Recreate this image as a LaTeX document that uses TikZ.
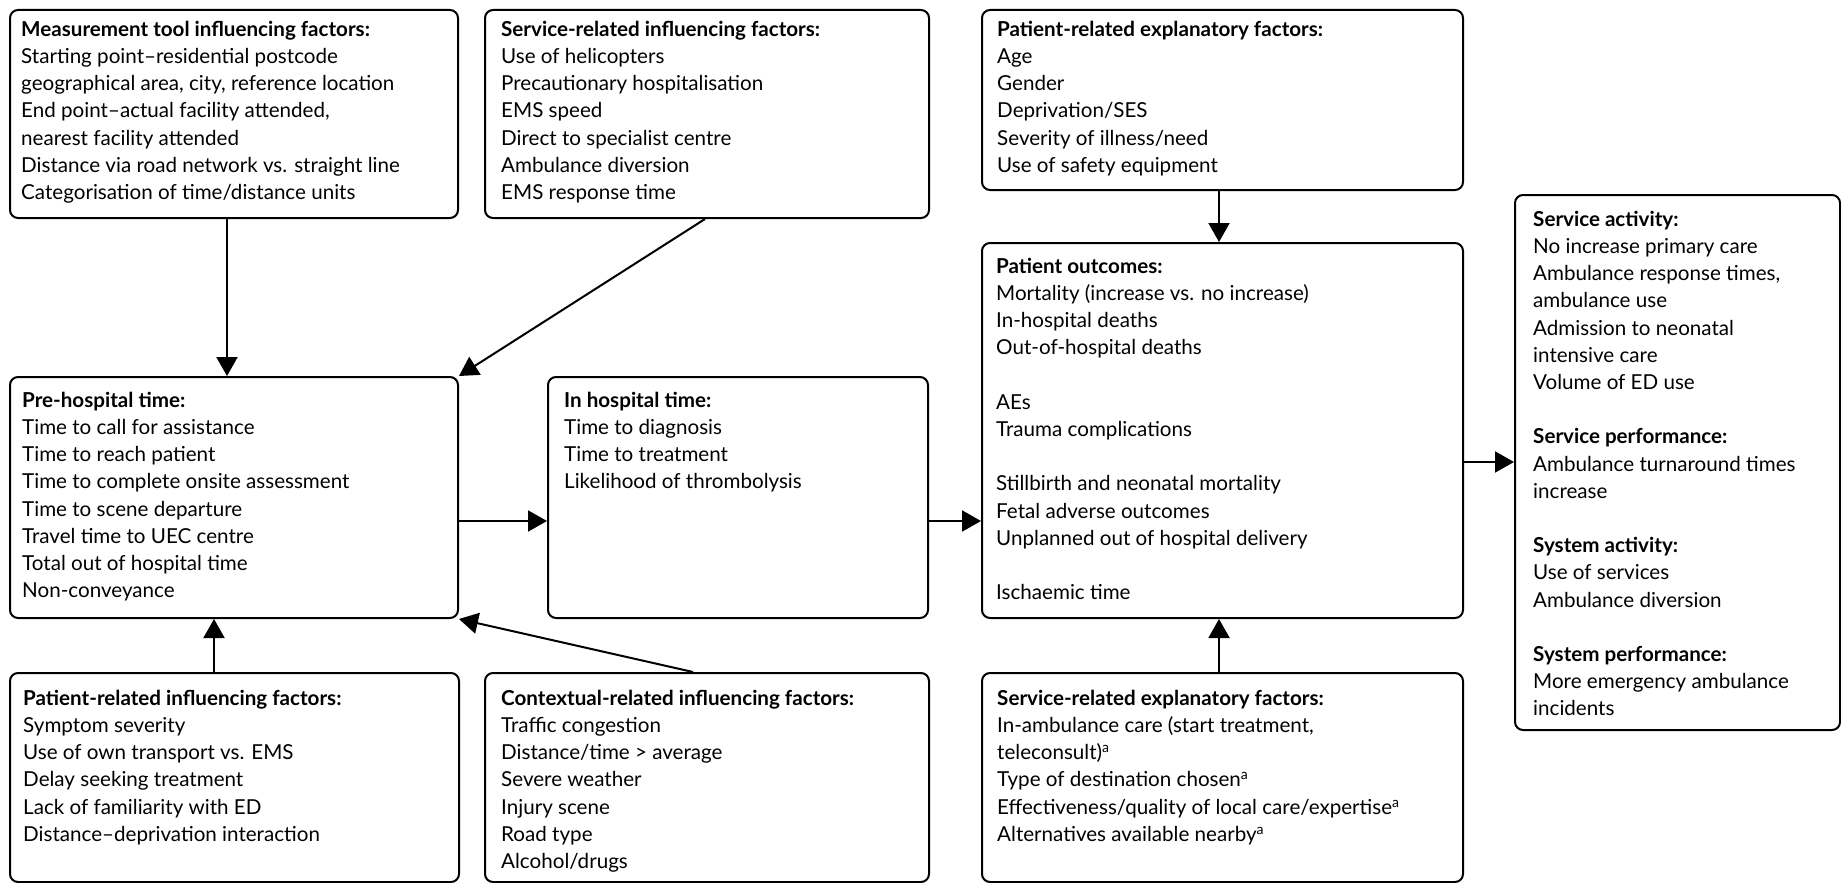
\documentclass[tikz,border=0pt]{standalone}
\usepackage{fontspec}
\setmainfont{Lato}
\usetikzlibrary{arrows.meta,calc}
\begin{document}
\begin{tikzpicture}[x=1pt,y=-1pt,
  box/.style={draw=black, line width=2pt, rounded corners=8pt, inner sep=0pt, anchor=north west},
  txt/.style={anchor=north west, inner sep=0pt, align=left, font=\fontsize{20.6}{27.2}\selectfont},
  arr/.style={line width=2pt, -{Triangle[length=19pt,width=21pt]}}]
\useasboundingbox (0,0) rectangle (1841,883);
\newcommand\hd[1]{\rule{0pt}{16pt}\textbf{#1}}
\newcommand\supa{\raisebox{7pt}{\fontsize{14}{14}\selectfont a}}
% boxes
\node[box, minimum width=448pt, minimum height=208pt] (meas) at (9,9) {};
\node[box, minimum width=444pt, minimum height=208pt] (sinf) at (484,9) {};
\node[box, minimum width=481pt, minimum height=180pt] (pexp) at (981,9) {};
\node[box, minimum width=448pt, minimum height=241pt] (pre) at (9,376) {};
\node[box, minimum width=380pt, minimum height=241pt] (inh) at (547,376) {};
\node[box, minimum width=481pt, minimum height=375pt] (out) at (981,242) {};
\node[box, minimum width=325pt, minimum height=535pt] (act) at (1514,194) {};
\node[box, minimum width=449pt, minimum height=209pt] (pinf) at (9,672) {};
\node[box, minimum width=444pt, minimum height=209pt] (ctx) at (484,672) {};
\node[box, minimum width=481pt, minimum height=209pt] (sexp) at (981,672) {};
% texts
\node[txt] (measT) at (21,20) {\hd{Measurement tool influencing factors:}\\
Starting point–residential postcode\\
geographical area, city, reference location\\
End point–actual facility attended,\\
nearest facility attended\\
Distance via road network vs. straight line\\
Categorisation of time/distance units};
\node[txt] (sinfT) at (501,20) {\hd{Service-related influencing factors:}\\
Use of helicopters\\
Precautionary hospitalisation\\
EMS speed\\
Direct to specialist centre\\
Ambulance diversion\\
EMS response time};
\node[txt] (pexpT) at (997,20) {\hd{Patient-related explanatory factors:}\\
Age\\
Gender\\
Deprivation/SES\\
Severity of illness/need\\
Use of safety equipment};
\node[txt] (preT) at (22,391) {\hd{Pre-hospital time:}\\
Time to call for assistance\\
Time to reach patient\\
Time to complete onsite assessment\\
Time to scene departure\\
Travel time to UEC centre\\
Total out of hospital time\\
Non-conveyance};
\node[txt] (inhT) at (564,391) {\hd{In hospital time:}\\
Time to diagnosis\\
Time to treatment\\
Likelihood of thrombolysis};
\node[txt] (outT) at (996,257) {\hd{Patient outcomes:}\\
Mortality (increase vs. no increase)\\
In-hospital deaths\\
Out-of-hospital deaths\\[27.2pt]
AEs\\
Trauma complications\\[27.2pt]
Stillbirth and neonatal mortality\\
Fetal adverse outcomes\\
Unplanned out of hospital delivery\\[27.2pt]
Ischaemic time};
\node[txt] (actT) at (1533,210) {\hd{Service activity:}\\
No increase primary care\\
Ambulance response times,\\
ambulance use\\
Admission to neonatal\\
intensive care\\
Volume of ED use\\[27.2pt]
\textbf{Service performance:}\\
Ambulance turnaround times\\
increase\\[27.2pt]
\textbf{System activity:}\\
Use of services\\
Ambulance diversion\\[27.2pt]
\textbf{System performance:}\\
More emergency ambulance\\
incidents};
\node[txt] (pinfT) at (23,689) {\hd{Patient-related influencing factors:}\\
Symptom severity\\
Use of own transport vs. EMS\\
Delay seeking treatment\\
Lack of familiarity with ED\\
Distance–deprivation interaction};
\node[txt] (ctxT) at (501,689) {\hd{Contextual-related influencing factors:}\\
Traffic congestion\\
Distance/time > average\\
Severe weather\\
Injury scene\\
Road type\\
Alcohol/drugs};
\node[txt] (sexpT) at (997,689) {\hd{Service-related explanatory factors:}\\
In-ambulance care (start treatment,\\
teleconsult)\supa\\
Type of destination chosen\supa\\
Effectiveness/quality of local care/expertise\supa\\
Alternatives available nearby\supa};
% connectors
\coordinate (c1) at ($(meas.south west)+(218,0)$);
\draw[arr] (c1) -- (c1 |- pre.north);
\coordinate (c2) at ($(sinf.south west)+(221,0)$);
\draw[arr] (c2) -- (pre.north east);
\coordinate (c3) at ($(pinf.north west)+(205,0)$);
\draw[arr] (c3) -- (c3 |- pre.south);
\coordinate (c4) at ($(ctx.north west)+(209,0)$);
\draw[arr] (c4) -- (pre.south east);
\coordinate (c5) at ($(pre.north east)+(0,145)$);
\draw[arr] (c5) -- (c5 -| inh.west);
\coordinate (c6) at ($(inh.north east)+(0,145)$);
\draw[arr] (c6) -- (c6 -| out.west);
\coordinate (c7) at ($(pexp.south west)+(238,0)$);
\draw[arr] (c7) -- (c7 |- out.north);
\coordinate (c8) at ($(sexp.north west)+(238,0)$);
\draw[arr] (c8) -- (c8 |- out.south);
\coordinate (c9) at ($(out.north east)+(0,220)$);
\draw[arr] (c9) -- (c9 -| act.west);
\end{tikzpicture}
\end{document}
